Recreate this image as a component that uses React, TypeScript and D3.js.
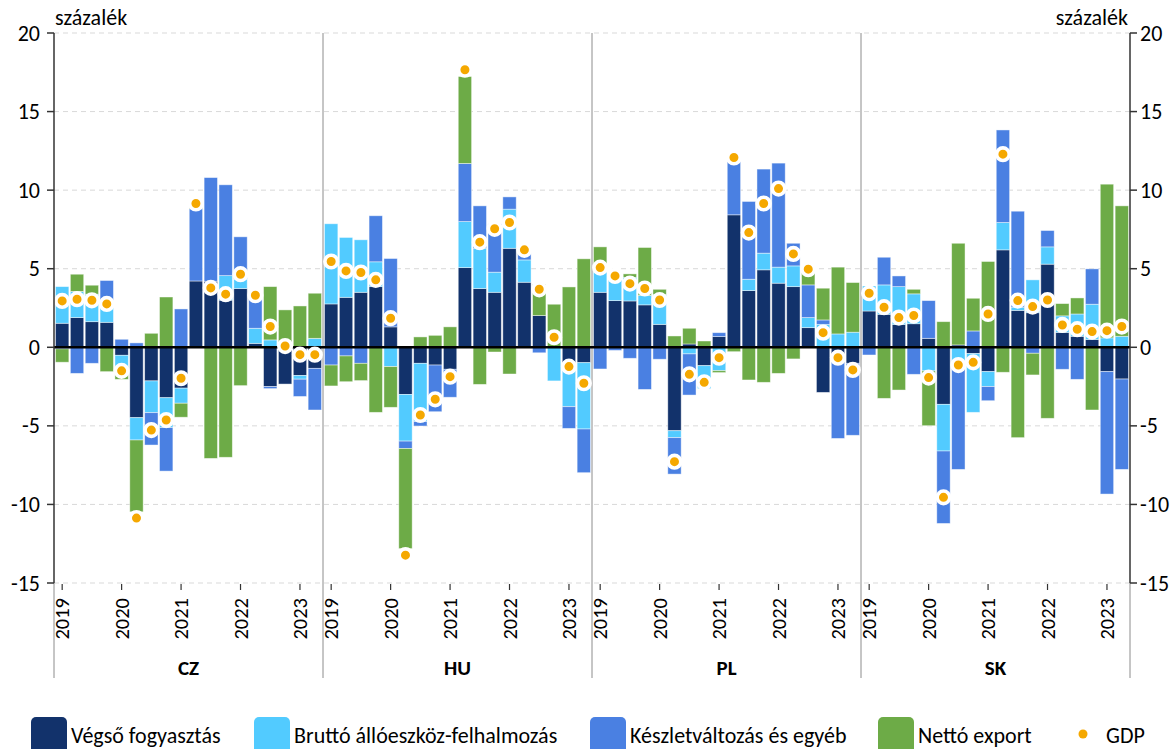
import React from "react";
import * as d3 from "d3";

const countries = ["CZ", "HU", "PL", "SK"];
const years = ["2019", "2020", "2021", "2022", "2023"];
const quarters = [
  "2019Q1", "2019Q2", "2019Q3", "2019Q4",
  "2020Q1", "2020Q2", "2020Q3", "2020Q4",
  "2021Q1", "2021Q2", "2021Q3", "2021Q4",
  "2022Q1", "2022Q2", "2022Q3", "2022Q4",
  "2023Q1", "2023Q2",
];
const yTicks = [-15, -10, -5, 0, 5, 10, 15, 20];

const seriesKeys = ["vegso", "brutto", "keszlet", "netto"];
const seriesLabels = ["Végső fogyasztás", "Bruttó állóeszköz-felhalmozás", "Készletváltozás és egyéb", "Nettó export"];
const gdpLabel = "GDP";
const unitLabel = "százalék";

// CZ
const czVegso = [1.53, 1.89, 1.63, 1.59, -0.51, -4.48, -2.14, -3.21, -2.6, 4.22, 4.2, 3.0, 3.74, 0.25, -2.5, -2.34, -1.8, -1.34];
const czBrutto = [2.33, 1.66, 1.75, 1.32, -0.7, -1.42, -2.02, -1.9, -0.96, 0, 0, 1.56, 0.6, 0.96, 0.47, 0, -0.23, 0.57];
const czKeszlet = [-0.1, -1.66, -1.02, 1.34, 0.51, 0.28, -2.06, -2.77, 2.44, 4.6, 6.6, 5.78, 2.69, 2.29, -0.13, 0, -1.1, -2.65];
const czNetto = [-0.85, 1.1, 0.57, -1.55, -0.83, -4.57, 0.89, 3.2, -0.89, 0.2, -7.07, -7.0, -2.44, 0, 3.39, 2.38, 2.63, 2.87];
const czGdp = [2.95, 3.06, 2.99, 2.76, -1.5, -10.87, -5.27, -4.63, -1.97, 9.15, 3.78, 3.38, 4.65, 3.31, 1.32, 0.08, -0.47, -0.47];

// HU
const huVegso = [2.76, 3.18, 3.5, 3.86, 1.3, -3.0, -1.02, -1.13, -1.4, 5.07, 3.74, 3.5, 6.3, 4.14, 2.02, 0, -1.0, -0.98];
const huBrutto = [5.1, 3.81, 3.34, 1.58, -1.23, -2.97, -3.71, 0, 0, 2.93, 2.56, 1.28, 2.49, 1.42, 0, -2.14, -2.78, -4.22];
const huKeszlet = [-1.13, -0.55, -1.02, 2.93, 4.35, -0.47, -0.28, -2.97, -1.78, 3.7, 2.7, 3.07, 0.78, 0.54, -0.35, 0, -1.38, -2.78];
const huNetto = [-1.33, -1.64, -1.1, -4.14, -2.59, -6.37, 0.66, 0.76, 1.3, 5.53, -2.36, -0.3, -1.7, 0, 1.98, 2.74, 3.84, 5.63];
const huGdp = [5.46, 4.86, 4.76, 4.29, 1.85, -13.23, -4.31, -3.31, -1.87, 17.66, 6.69, 7.54, 7.94, 6.2, 3.69, 0.64, -1.23, -2.29];

// PL
const plVegso = [3.5, 2.97, 2.95, 2.7, 1.46, -5.31, 0.21, -1.17, 0.68, 8.43, 3.61, 4.93, 4.08, 3.86, 1.25, -2.87, -0.5, -1.02];
const plBrutto = [1.3, 1.73, 1.5, 0.6, 1.89, -0.44, -0.42, -1.46, -1.49, 0, 0.72, 1.06, 1.02, 1.32, 0.64, 1.46, 0.85, 0.96];
const plKeszlet = [-1.38, -0.2, -0.7, -2.68, -0.76, -2.32, -2.62, 0, 0.25, 3.77, 4.95, 5.35, 6.62, 1.44, 2.08, 0.28, -5.3, -4.58];
const plNetto = [1.59, 0, 0.22, 3.05, 0.34, 0.72, 1.0, 0.4, -0.12, -0.28, -2.08, -2.23, -1.66, -0.74, 1.03, 2.02, 4.25, 3.16];
const plGdp = [5.07, 4.54, 4.05, 3.74, 3.01, -7.28, -1.72, -2.23, -0.66, 12.08, 7.3, 9.15, 10.1, 5.94, 4.97, 0.93, -0.66, -1.44];

// SK
const skVegso = [2.31, 2.1, 1.45, 1.5, 0.57, -3.63, 0.15, -0.4, -1.55, 6.2, 2.35, 2.2, 5.29, 0.95, 0.7, 0.5, -1.55, -2.02];
const skBrutto = [1.59, 1.87, 2.41, 1.9, -1.5, -2.97, -0.9, -3.74, -0.95, 1.74, 0.2, 2.09, 1.1, 1.05, 1.42, 2.24, 0.6, 0.7];
const skKeszlet = [-0.49, 1.76, 0.68, -1.72, 2.4, -4.61, -6.87, 1.04, -0.9, 5.89, 6.11, -0.38, 1.04, -1.4, -2.04, 2.25, -7.79, -5.75];
const skNetto = [0, -3.25, -2.72, 0.29, -3.49, 1.63, 6.47, 2.08, 5.46, -1.59, -5.75, -1.38, -4.52, 0.78, 1.02, -3.99, 9.78, 8.3];
const skGdp = [3.44, 2.55, 1.89, 2.02, -1.93, -9.55, -1.13, -0.96, 2.12, 12.29, 2.97, 2.59, 3.01, 1.42, 1.15, 1.0, 1.06, 1.32];

const countrySeries: Record<string, number[][]> = {
  CZ: [czVegso, czBrutto, czKeszlet, czNetto],
  HU: [huVegso, huBrutto, huKeszlet, huNetto],
  PL: [plVegso, plBrutto, plKeszlet, plNetto],
  SK: [skVegso, skBrutto, skKeszlet, skNetto],
};
const countryGdp: Record<string, number[]> = { CZ: czGdp, HU: huGdp, PL: plGdp, SK: skGdp };

const colors = ["#12326B", "#52CBFF", "#4A80E2", "#6DAB47"];
const gdpColor = "#F5A800";
const FONT = "Carlito, Calibri, Lato, 'Open Sans', sans-serif";

const W = 1176;
const H = 749;
const plotLeft = 54;
const plotRight = 1130;
const plotTop = 33;
const plotBottom = 583;

export default function App() {
  const y = d3.scaleLinear().domain([-15, 20]).range([plotBottom, plotTop]);
  const xCountry = d3.scaleBand<string>().domain(countries).range([plotLeft, plotRight]).padding(0);
  const stack = d3
    .stack<any>()
    .keys(seriesKeys)
    .offset(d3.stackOffsetDiverging);

  const panels = countries.map((c) => {
    const x0 = xCountry(c)!;
    const xq = d3
      .scaleBand<string>()
      .domain(quarters)
      .range([x0, x0 + xCountry.bandwidth()])
      .paddingInner(0.1)
      .paddingOuter(0.1);
    const rows = quarters.map((q, i) => {
      const r: any = { q };
      seriesKeys.forEach((k, j) => (r[k] = countrySeries[c][j][i]));
      return r;
    });
    const stacked = stack(rows);
    return { c, x0, xq, stacked };
  });

  const gridVals = yTicks.filter((v) => v !== 0);

  return (
    <svg width={W} height={H} style={{ display: "block", position: "absolute", left: 0, top: 0 }} fontFamily={FONT}>
      <rect x={0} y={0} width={W} height={H} fill="#fff" />
      {/* gridlines */}
      {gridVals.map((v) => (
        <line key={"g" + v} x1={plotLeft} x2={plotRight} y1={y(v)} y2={y(v)} stroke="#D9D9D9" strokeWidth={1} strokeDasharray="5,4" />
      ))}
      {/* panel separators extending below */}
      {[plotLeft, ...panels.slice(1).map((p) => p.x0), plotRight].map((xv, i) => (
        <line key={"sep" + i} x1={xv} x2={xv} y1={i === 0 || i === 4 ? plotBottom : plotTop} y2={678} stroke="#8C8C8C" strokeWidth={1} />
      ))}
      {/* bars */}
      {panels.map((p) => (
        <g key={p.c}>
          {p.stacked.map((layer, li) => (
            <g key={layer.key} fill={colors[li]}>
              {layer.map((d, i) => {
                const top = y(Math.max(d[0], d[1]));
                const bot = y(Math.min(d[0], d[1]));
                if (bot - top < 0.01) return null;
                return (
                  <rect
                    key={i}
                    x={p.xq(quarters[i])}
                    width={p.xq.bandwidth()}
                    y={top}
                    height={bot - top}
                    stroke="rgba(255,255,255,0.55)"
                    strokeWidth={0.8}
                  />
                );
              })}
            </g>
          ))}
        </g>
      ))}
      {/* zero line */}
      <line x1={plotLeft} x2={plotRight} y1={y(0)} y2={y(0)} stroke="#000" strokeWidth={2.5} />
      {/* GDP dots */}
      {panels.map((p) => (
        <g key={"gdp" + p.c}>
          {countryGdp[p.c].map((v, i) => (
            <circle
              key={i}
              cx={p.xq(quarters[i])! + p.xq.bandwidth() / 2}
              cy={y(v)}
              r={6.3}
              fill={gdpColor}
              stroke="#fff"
              strokeWidth={3.6}
            />
          ))}
        </g>
      ))}
      {/* axes */}
      <line x1={plotLeft} x2={plotLeft} y1={plotTop} y2={plotBottom} stroke="#333" strokeWidth={1.5} />
      <line x1={plotRight} x2={plotRight} y1={plotTop} y2={plotBottom} stroke="#333" strokeWidth={1.5} />
      {yTicks.map((v) => (
        <g key={"yt" + v}>
          <line x1={plotLeft - 7} x2={plotLeft} y1={y(v)} y2={y(v)} stroke="#333" strokeWidth={1.5} />
          <line x1={plotRight} x2={plotRight + 7} y1={y(v)} y2={y(v)} stroke="#333" strokeWidth={1.5} />
          <text x={plotLeft - 14} y={y(v)} textAnchor="end" dominantBaseline="central" fontSize={22} fill="#000">
            {v}
          </text>
          <text x={plotRight + 10} y={y(v)} textAnchor="start" dominantBaseline="central" fontSize={22} fill="#000">
            {v}
          </text>
        </g>
      ))}
      <text x={plotLeft + 1} y={25} fontSize={22} fill="#000">{unitLabel}</text>
      <text x={plotRight - 2} y={25} textAnchor="end" fontSize={22} fill="#000">{unitLabel}</text>
      {/* year ticks and labels */}
      {panels.map((p) => (
        <g key={"yr" + p.c}>
          {years.map((yr) => {
            const xc = p.xq(yr + "Q1")! + p.xq.bandwidth() / 2;
            return (
              <g key={yr}>
                <line x1={xc} x2={xc} y1={plotBottom + 1} y2={plotBottom + 7} stroke="#333" strokeWidth={1.2} />
                <text
                  transform={`translate(${xc},${plotBottom + 15}) rotate(-90)`}
                  textAnchor="end"
                  dominantBaseline="central"
                  fontSize={20.5}
                  fill="#000"
                >
                  {yr}
                </text>
              </g>
            );
          })}
          <text x={p.x0 + xCountry.bandwidth() / 2} y={668} textAnchor="middle" dominantBaseline="central" fontSize={21} fontWeight="bold" fill="#000">
            {p.c}
          </text>
        </g>
      ))}
      {/* legend */}
      {[31, 254, 590, 878].map((lx, i) => (
        <g key={"lg" + i}>
          <rect x={lx} y={717} width={36} height={40} rx={5} fill={colors[i]} />
          <text x={lx + 40} y={735} dominantBaseline="central" fontSize={22} fill="#000">
            {seriesLabels[i]}
          </text>
        </g>
      ))}
      <circle cx={1083} cy={734} r={4.5} fill={gdpColor} />
      <text x={1106} y={735} dominantBaseline="central" fontSize={22} fill="#000">{gdpLabel}</text>
    </svg>
  );
}
